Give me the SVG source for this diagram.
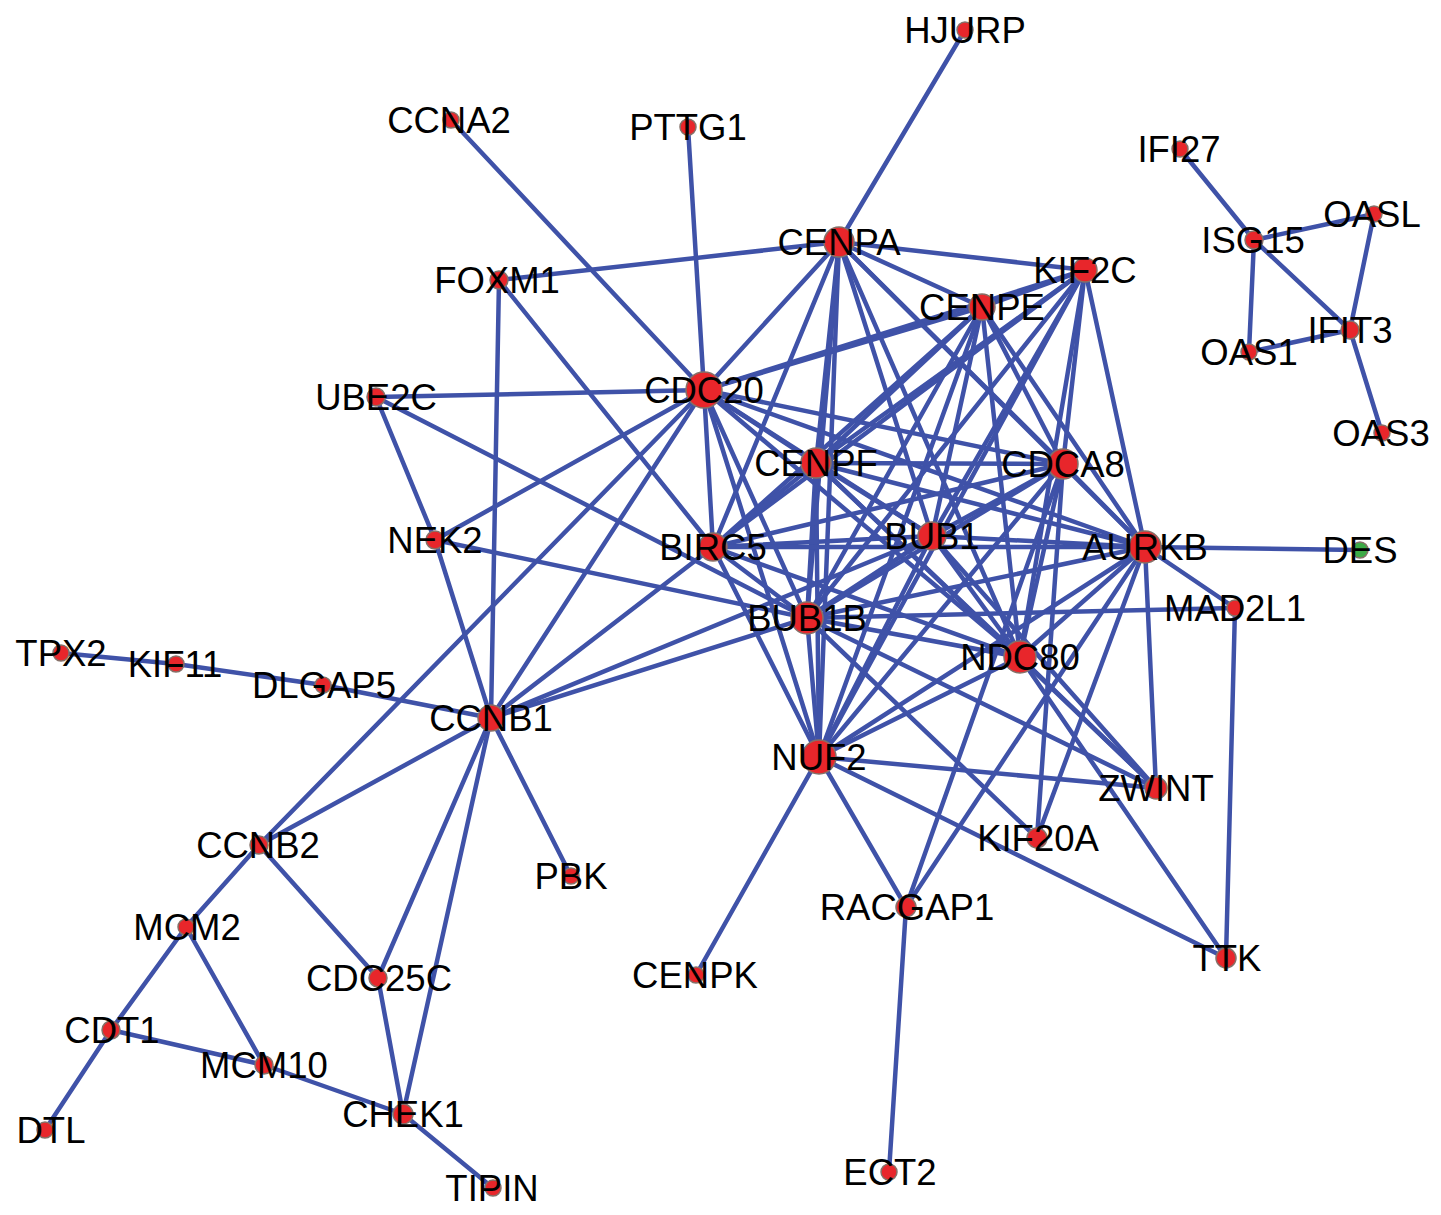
<svg xmlns="http://www.w3.org/2000/svg" width="1441" height="1215" viewBox="0 0 1441 1215">
<style>
.e{stroke:#3f52a8;stroke-width:4.5;stroke-linecap:round}
.n{fill:#e8262b;stroke:#857068;stroke-width:1.5}
.g{fill:#3daa47;stroke:#857068;stroke-width:1.5}
text{font-family:"Liberation Sans",Arial,sans-serif;font-size:36.5px;fill:#000;text-anchor:middle}
</style>
<rect width="1441" height="1215" fill="#fff"/>
<g id="edges">
<line class="e" x1="704" y1="390" x2="839" y2="242"/>
<line class="e" x1="704" y1="390" x2="982" y2="307"/>
<line class="e" x1="704" y1="390" x2="1085" y2="270"/>
<line class="e" x1="704" y1="390" x2="816" y2="463"/>
<line class="e" x1="704" y1="390" x2="1063" y2="464"/>
<line class="e" x1="704" y1="390" x2="713" y2="547"/>
<line class="e" x1="704" y1="390" x2="932" y2="536"/>
<line class="e" x1="704" y1="390" x2="1145" y2="547"/>
<line class="e" x1="704" y1="390" x2="807" y2="618"/>
<line class="e" x1="704" y1="390" x2="1020" y2="657"/>
<line class="e" x1="704" y1="390" x2="819" y2="757"/>
<line class="e" x1="839" y1="242" x2="982" y2="307"/>
<line class="e" x1="839" y1="242" x2="1085" y2="270"/>
<line class="e" x1="839" y1="242" x2="816" y2="463"/>
<line class="e" x1="839" y1="242" x2="1063" y2="464"/>
<line class="e" x1="839" y1="242" x2="713" y2="547"/>
<line class="e" x1="839" y1="242" x2="932" y2="536"/>
<line class="e" x1="839" y1="242" x2="1145" y2="547"/>
<line class="e" x1="839" y1="242" x2="807" y2="618"/>
<line class="e" x1="839" y1="242" x2="1020" y2="657"/>
<line class="e" x1="839" y1="242" x2="819" y2="757"/>
<line class="e" x1="982" y1="307" x2="1085" y2="270"/>
<line class="e" x1="982" y1="307" x2="816" y2="463"/>
<line class="e" x1="982" y1="307" x2="1063" y2="464"/>
<line class="e" x1="982" y1="307" x2="713" y2="547"/>
<line class="e" x1="982" y1="307" x2="932" y2="536"/>
<line class="e" x1="982" y1="307" x2="1145" y2="547"/>
<line class="e" x1="982" y1="307" x2="807" y2="618"/>
<line class="e" x1="982" y1="307" x2="1020" y2="657"/>
<line class="e" x1="982" y1="307" x2="819" y2="757"/>
<line class="e" x1="1085" y1="270" x2="816" y2="463"/>
<line class="e" x1="1085" y1="270" x2="1063" y2="464"/>
<line class="e" x1="1085" y1="270" x2="713" y2="547"/>
<line class="e" x1="1085" y1="270" x2="932" y2="536"/>
<line class="e" x1="1085" y1="270" x2="1145" y2="547"/>
<line class="e" x1="1085" y1="270" x2="807" y2="618"/>
<line class="e" x1="1085" y1="270" x2="1020" y2="657"/>
<line class="e" x1="1085" y1="270" x2="819" y2="757"/>
<line class="e" x1="816" y1="463" x2="1063" y2="464"/>
<line class="e" x1="816" y1="463" x2="713" y2="547"/>
<line class="e" x1="816" y1="463" x2="932" y2="536"/>
<line class="e" x1="816" y1="463" x2="1145" y2="547"/>
<line class="e" x1="816" y1="463" x2="807" y2="618"/>
<line class="e" x1="816" y1="463" x2="1020" y2="657"/>
<line class="e" x1="816" y1="463" x2="819" y2="757"/>
<line class="e" x1="1063" y1="464" x2="713" y2="547"/>
<line class="e" x1="1063" y1="464" x2="932" y2="536"/>
<line class="e" x1="1063" y1="464" x2="1145" y2="547"/>
<line class="e" x1="1063" y1="464" x2="807" y2="618"/>
<line class="e" x1="1063" y1="464" x2="1020" y2="657"/>
<line class="e" x1="1063" y1="464" x2="819" y2="757"/>
<line class="e" x1="713" y1="547" x2="932" y2="536"/>
<line class="e" x1="713" y1="547" x2="1145" y2="547"/>
<line class="e" x1="713" y1="547" x2="807" y2="618"/>
<line class="e" x1="713" y1="547" x2="1020" y2="657"/>
<line class="e" x1="713" y1="547" x2="819" y2="757"/>
<line class="e" x1="932" y1="536" x2="1145" y2="547"/>
<line class="e" x1="932" y1="536" x2="807" y2="618"/>
<line class="e" x1="932" y1="536" x2="1020" y2="657"/>
<line class="e" x1="932" y1="536" x2="819" y2="757"/>
<line class="e" x1="1145" y1="547" x2="807" y2="618"/>
<line class="e" x1="1145" y1="547" x2="1020" y2="657"/>
<line class="e" x1="1145" y1="547" x2="819" y2="757"/>
<line class="e" x1="807" y1="618" x2="1020" y2="657"/>
<line class="e" x1="807" y1="618" x2="819" y2="757"/>
<line class="e" x1="1020" y1="657" x2="819" y2="757"/>
<line class="e" x1="1156" y1="788" x2="819" y2="757"/>
<line class="e" x1="1156" y1="788" x2="1145" y2="547"/>
<line class="e" x1="1156" y1="788" x2="1020" y2="657"/>
<line class="e" x1="1156" y1="788" x2="932" y2="536"/>
<line class="e" x1="1156" y1="788" x2="816" y2="463"/>
<line class="e" x1="1156" y1="788" x2="807" y2="618"/>
<line class="e" x1="1037" y1="838" x2="807" y2="618"/>
<line class="e" x1="1037" y1="838" x2="1063" y2="464"/>
<line class="e" x1="1037" y1="838" x2="1145" y2="547"/>
<line class="e" x1="906" y1="907" x2="819" y2="757"/>
<line class="e" x1="906" y1="907" x2="889" y2="1172"/>
<line class="e" x1="906" y1="907" x2="1145" y2="547"/>
<line class="e" x1="906" y1="907" x2="1063" y2="464"/>
<line class="e" x1="1226" y1="958" x2="819" y2="757"/>
<line class="e" x1="1226" y1="958" x2="1235" y2="608"/>
<line class="e" x1="1226" y1="958" x2="1020" y2="657"/>
<line class="e" x1="1235" y1="608" x2="1145" y2="547"/>
<line class="e" x1="1235" y1="608" x2="807" y2="618"/>
<line class="e" x1="1145" y1="547" x2="1360" y2="550"/>
<line class="e" x1="965" y1="30" x2="839" y2="242"/>
<line class="e" x1="451" y1="120" x2="704" y2="390"/>
<line class="e" x1="688" y1="127" x2="704" y2="390"/>
<line class="e" x1="499" y1="280" x2="839" y2="242"/>
<line class="e" x1="499" y1="280" x2="491" y2="718"/>
<line class="e" x1="499" y1="280" x2="713" y2="547"/>
<line class="e" x1="376" y1="397" x2="704" y2="390"/>
<line class="e" x1="376" y1="397" x2="807" y2="618"/>
<line class="e" x1="376" y1="397" x2="435" y2="540"/>
<line class="e" x1="435" y1="540" x2="491" y2="718"/>
<line class="e" x1="435" y1="540" x2="704" y2="390"/>
<line class="e" x1="435" y1="540" x2="807" y2="618"/>
<line class="e" x1="61" y1="653" x2="176" y2="664"/>
<line class="e" x1="176" y1="664" x2="323" y2="685"/>
<line class="e" x1="323" y1="685" x2="491" y2="718"/>
<line class="e" x1="491" y1="718" x2="704" y2="390"/>
<line class="e" x1="491" y1="718" x2="713" y2="547"/>
<line class="e" x1="491" y1="718" x2="932" y2="536"/>
<line class="e" x1="491" y1="718" x2="807" y2="618"/>
<line class="e" x1="491" y1="718" x2="571" y2="876"/>
<line class="e" x1="491" y1="718" x2="259" y2="845"/>
<line class="e" x1="491" y1="718" x2="378" y2="978"/>
<line class="e" x1="491" y1="718" x2="403" y2="1114"/>
<line class="e" x1="259" y1="845" x2="704" y2="390"/>
<line class="e" x1="259" y1="845" x2="186" y2="927"/>
<line class="e" x1="259" y1="845" x2="378" y2="978"/>
<line class="e" x1="186" y1="927" x2="111" y2="1030"/>
<line class="e" x1="186" y1="927" x2="264" y2="1065"/>
<line class="e" x1="111" y1="1030" x2="264" y2="1065"/>
<line class="e" x1="264" y1="1065" x2="403" y2="1114"/>
<line class="e" x1="111" y1="1030" x2="45" y2="1130"/>
<line class="e" x1="378" y1="978" x2="403" y2="1114"/>
<line class="e" x1="403" y1="1114" x2="493" y2="1188"/>
<line class="e" x1="696" y1="975" x2="819" y2="757"/>
<line class="e" x1="1254" y1="240" x2="1180" y2="149"/>
<line class="e" x1="1254" y1="240" x2="1374" y2="214"/>
<line class="e" x1="1254" y1="240" x2="1249" y2="352"/>
<line class="e" x1="1254" y1="240" x2="1350" y2="330"/>
<line class="e" x1="1374" y1="214" x2="1350" y2="330"/>
<line class="e" x1="1249" y1="352" x2="1350" y2="330"/>
<line class="e" x1="1350" y1="330" x2="1382" y2="433"/>
</g>
<g id="node-HJURP"><circle class="n" cx="965" cy="30" r="8"/><text x="965" y="43">HJURP</text></g>
<g id="node-CCNA2"><circle class="n" cx="451" cy="120" r="8"/><text x="449" y="133">CCNA2</text></g>
<g id="node-PTTG1"><circle class="n" cx="688" cy="127" r="8"/><text x="688" y="140">PTTG1</text></g>
<g id="node-FOXM1"><circle class="n" cx="499" cy="280" r="9"/><text x="497" y="293">FOXM1</text></g>
<g id="node-UBE2C"><circle class="n" cx="376" cy="397" r="9"/><text x="376" y="410">UBE2C</text></g>
<g id="node-NEK2"><circle class="n" cx="435" cy="540" r="9"/><text x="435" y="553">NEK2</text></g>
<g id="node-CENPA"><circle class="n" cx="839" cy="242" r="15"/><text x="839" y="255">CENPA</text></g>
<g id="node-KIF2C"><circle class="n" cx="1085" cy="270" r="12"/><text x="1085" y="283">KIF2C</text></g>
<g id="node-CENPE"><circle class="n" cx="982" cy="307" r="13"/><text x="982" y="320">CENPE</text></g>
<g id="node-CDC20"><circle class="n" cx="704" cy="390" r="18"/><text x="704" y="403">CDC20</text></g>
<g id="node-CENPF"><circle class="n" cx="816" cy="463" r="15"/><text x="816" y="476">CENPF</text></g>
<g id="node-CDCA8"><circle class="n" cx="1063" cy="464" r="15"/><text x="1063" y="477">CDCA8</text></g>
<g id="node-BIRC5"><circle class="n" cx="713" cy="547" r="14"/><text x="713" y="560">BIRC5</text></g>
<g id="node-BUB1"><circle class="n" cx="932" cy="536" r="14"/><text x="932" y="549">BUB1</text></g>
<g id="node-AURKB"><circle class="n" cx="1145" cy="547" r="16"/><text x="1145" y="560">AURKB</text></g>
<g id="node-DES"><circle class="g" cx="1360" cy="550" r="8"/><text x="1360" y="563">DES</text></g>
<g id="node-MAD2L1"><circle class="n" cx="1235" cy="608" r="8"/><text x="1235" y="621">MAD2L1</text></g>
<g id="node-BUB1B"><circle class="n" cx="807" cy="618" r="16"/><text x="807" y="631">BUB1B</text></g>
<g id="node-NDC80"><circle class="n" cx="1020" cy="657" r="16"/><text x="1020" y="670">NDC80</text></g>
<g id="node-NUF2"><circle class="n" cx="819" cy="757" r="17"/><text x="819" y="770">NUF2</text></g>
<g id="node-ZWINT"><circle class="n" cx="1156" cy="788" r="11"/><text x="1156" y="801">ZWINT</text></g>
<g id="node-KIF20A"><circle class="n" cx="1037" cy="838" r="10"/><text x="1038" y="851">KIF20A</text></g>
<g id="node-RACGAP1"><circle class="n" cx="906" cy="907" r="10"/><text x="907" y="920">RACGAP1</text></g>
<g id="node-TTK"><circle class="n" cx="1226" cy="958" r="10"/><text x="1227" y="971">TTK</text></g>
<g id="node-CENPK"><circle class="n" cx="696" cy="975" r="8"/><text x="695" y="988">CENPK</text></g>
<g id="node-ECT2"><circle class="n" cx="889" cy="1172" r="8"/><text x="890" y="1185">ECT2</text></g>
<g id="node-TPX2"><circle class="n" cx="61" cy="653" r="8"/><text x="61" y="666">TPX2</text></g>
<g id="node-KIF11"><circle class="n" cx="176" cy="664" r="8"/><text x="175" y="677">KIF11</text></g>
<g id="node-DLGAP5"><circle class="n" cx="323" cy="685" r="8"/><text x="324" y="698">DLGAP5</text></g>
<g id="node-CCNB1"><circle class="n" cx="491" cy="718" r="13"/><text x="491" y="731">CCNB1</text></g>
<g id="node-CCNB2"><circle class="n" cx="259" cy="845" r="9"/><text x="258" y="858">CCNB2</text></g>
<g id="node-PBK"><circle class="n" cx="571" cy="876" r="8"/><text x="571" y="889">PBK</text></g>
<g id="node-MCM2"><circle class="n" cx="186" cy="927" r="8"/><text x="187" y="940">MCM2</text></g>
<g id="node-CDC25C"><circle class="n" cx="378" cy="978" r="9"/><text x="379" y="991">CDC25C</text></g>
<g id="node-CDT1"><circle class="n" cx="111" cy="1030" r="9"/><text x="112" y="1043">CDT1</text></g>
<g id="node-MCM10"><circle class="n" cx="264" cy="1065" r="9"/><text x="264" y="1078">MCM10</text></g>
<g id="node-CHEK1"><circle class="n" cx="403" cy="1114" r="10"/><text x="403" y="1127">CHEK1</text></g>
<g id="node-DTL"><circle class="n" cx="45" cy="1130" r="8"/><text x="51" y="1143">DTL</text></g>
<g id="node-TIPIN"><circle class="n" cx="493" cy="1188" r="8"/><text x="492" y="1201">TIPIN</text></g>
<g id="node-IFI27"><circle class="n" cx="1180" cy="149" r="8"/><text x="1179" y="162">IFI27</text></g>
<g id="node-ISG15"><circle class="n" cx="1254" cy="240" r="9"/><text x="1253" y="253">ISG15</text></g>
<g id="node-OASL"><circle class="n" cx="1374" cy="214" r="8"/><text x="1372" y="227">OASL</text></g>
<g id="node-IFIT3"><circle class="n" cx="1350" cy="330" r="9"/><text x="1350" y="343">IFIT3</text></g>
<g id="node-OAS1"><circle class="n" cx="1249" cy="352" r="8"/><text x="1249" y="365">OAS1</text></g>
<g id="node-OAS3"><circle class="n" cx="1382" cy="433" r="8"/><text x="1381" y="446">OAS3</text></g>
</svg>
